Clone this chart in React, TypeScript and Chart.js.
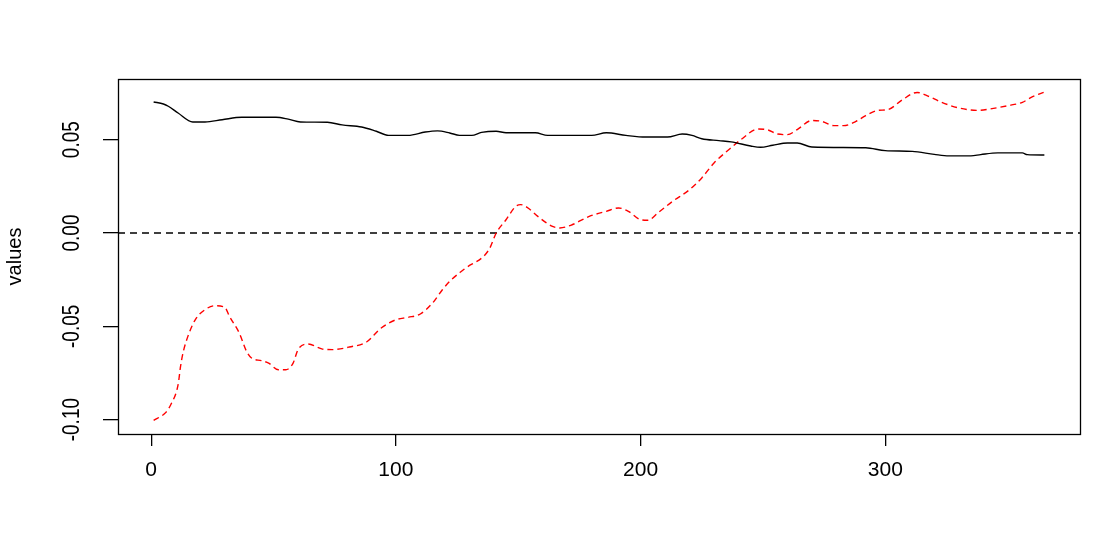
import React, { useEffect, useRef } from "react";
import { Chart, registerables } from "chart.js";

Chart.register(...registerables);

// Axis ticks
const xTicks = [0, 100, 200, 300];
const yTicks = [-0.1, -0.05, 0, 0.05];
const yTickLabels = ["-0.10", "-0.05", "0.00", "0.05"];
const xMin = -13.56;
const xMax = 379.56;
const yMin = -0.1077;
const yMax = 0.0825;

// Black solid series
const blackDays = [1, 5, 7, 11, 17, 22, 29, 37, 51, 56, 61, 72, 78, 86, 92, 97, 105, 112, 117, 122, 126, 131, 135, 141, 145, 157, 162, 180, 186, 194, 202, 211, 217, 221, 225, 232, 237, 245, 249, 254, 260, 264, 270, 292, 300, 311, 320, 326, 335, 339, 346, 356, 358, 365];
const blackValues = [0.0702, 0.0691, 0.0679, 0.0643, 0.0595, 0.0595, 0.0607, 0.062, 0.062, 0.061, 0.0595, 0.0593, 0.0579, 0.0568, 0.0545, 0.0523, 0.0523, 0.0541, 0.0547, 0.0536, 0.0523, 0.0523, 0.0539, 0.0545, 0.0537, 0.0537, 0.0523, 0.0523, 0.0537, 0.0523, 0.0514, 0.0514, 0.053, 0.0523, 0.0505, 0.0495, 0.0488, 0.0466, 0.0459, 0.047, 0.0482, 0.0482, 0.0461, 0.0457, 0.0441, 0.0437, 0.0421, 0.0413, 0.0413, 0.042, 0.0429, 0.0429, 0.042, 0.0418];

// Red dashed series
const redDays = [1, 6, 8, 11, 12, 13, 15, 18, 22, 26, 30, 32, 36, 39, 41, 45, 48, 52, 55, 58, 60, 64, 70, 74, 81, 88, 94, 100, 105, 110, 115, 119, 122, 128, 138, 141, 145, 149, 151, 154, 158, 164, 167, 172, 179, 186, 191, 195, 200, 203, 207, 213, 220, 225, 230, 236, 241, 248, 252, 256, 260, 264, 270, 274, 279, 283, 288, 292, 297, 301, 307, 313, 317, 323, 330, 338, 343, 350, 356, 360, 365];
const redValues = [-0.1004, -0.0961, -0.092, -0.0813, -0.0715, -0.0643, -0.0554, -0.0465, -0.0411, -0.039, -0.0397, -0.0447, -0.0536, -0.0635, -0.067, -0.0684, -0.0697, -0.0733, -0.0733, -0.0697, -0.0625, -0.0595, -0.0622, -0.0625, -0.0611, -0.0584, -0.0509, -0.0465, -0.0452, -0.0434, -0.0375, -0.0304, -0.0259, -0.0193, -0.009, 0.0, 0.0071, 0.0143, 0.0152, 0.0134, 0.0089, 0.0035, 0.0027, 0.0044, 0.0089, 0.0116, 0.0134, 0.0116, 0.0071, 0.0068, 0.0107, 0.0169, 0.0232, 0.0295, 0.0375, 0.0446, 0.05, 0.0557, 0.0552, 0.053, 0.0527, 0.0554, 0.0603, 0.0598, 0.0575, 0.0575, 0.0598, 0.0629, 0.0657, 0.0661, 0.0714, 0.0753, 0.0736, 0.07, 0.067, 0.0657, 0.0665, 0.0682, 0.07, 0.0729, 0.0755];

const FONT = '"Liberation Sans", Arial, sans-serif';

const rStylePlugin = {
  id: "rStyle",
  afterDraw(chart: any) {
    const { ctx, chartArea: a, scales } = chart;
    ctx.save();
    ctx.strokeStyle = "#000";
    ctx.lineWidth = 1.3;
    ctx.strokeRect(Math.round(a.left) + 0.5, Math.round(a.top) + 0.5, Math.round(a.right - a.left), Math.round(a.bottom - a.top));
    const ys = scales.y;
    ctx.fillStyle = "#000";
    ctx.font = `19px ${FONT}`;
    ctx.textAlign = "center";
    ctx.textBaseline = "middle";
    yTicks.forEach((v, i) => {
      const py = ys.getPixelForValue(v);
      ctx.save();
      ctx.translate(a.left - 46, py);
      ctx.rotate(-Math.PI / 2);
      ctx.scale(1, 1.25);
      ctx.fillText(yTickLabels[i], 0, 0);
      ctx.restore();
    });
    ctx.restore();
  },
};

export default function App() {
  const ref = useRef<HTMLCanvasElement | null>(null);

  useEffect(() => {
    if (!ref.current) return;
    const chart = new Chart(ref.current, {
      type: "line",
      data: {
        datasets: [
          {
            label: "black",
            data: blackDays.map((d, i) => ({ x: d, y: blackValues[i] })),
            borderColor: "#000",
            borderWidth: 1.4,
            pointRadius: 0,
            cubicInterpolationMode: "monotone",
            fill: false,
          },
          {
            label: "red",
            data: redDays.map((d, i) => ({ x: d, y: redValues[i] })),
            borderColor: "#ff0000",
            borderWidth: 1.4,
            borderDash: [6, 4],
            pointRadius: 0,
            cubicInterpolationMode: "monotone",
            fill: false,
          },
          {
            label: "zero",
            data: [
              { x: xMin, y: 0 },
              { x: xMax, y: 0 },
            ],
            borderColor: "#000",
            borderWidth: 1.6,
            borderDash: [7, 5],
            pointRadius: 0,
            fill: false,
          },
        ],
      },
      options: {
        animation: false,
        responsive: true,
        maintainAspectRatio: false,
        layout: { padding: { top: 79, right: 30, left: 0, bottom: 0 } },
        plugins: { legend: { display: false }, tooltip: { enabled: false } },
        scales: {
          x: {
            type: "linear",
            min: xMin,
            max: xMax,
            afterBuildTicks: (s: any) => {
              s.ticks = xTicks.map((v) => ({ value: v }));
            },
            afterFit: (s: any) => {
              s.height = 105;
            },
            ticks: {
              autoSkip: false,
              maxRotation: 0,
              minRotation: 0,
              padding: 12,
              color: "#000",
              font: { family: FONT, size: 21 },
              callback: (v: any) => String(v),
            },
            grid: { drawOnChartArea: false, drawTicks: true, tickLength: 12, lineWidth: 1.3, color: "#000", tickColor: "#000" },
            border: { display: false },
          },
          y: {
            type: "linear",
            min: yMin,
            max: yMax,
            afterBuildTicks: (s: any) => {
              s.ticks = yTicks.map((v) => ({ value: v }));
            },
            afterFit: (s: any) => {
              s.width = 118;
            },
            ticks: { display: false },
            grid: { drawOnChartArea: false, drawTicks: true, tickLength: 15, lineWidth: 1.3, color: "#000", tickColor: "#000" },
            border: { display: false },
            title: {
              display: true,
              text: "values",
              color: "#000",
              font: { family: FONT, size: 20 },
              padding: { top: 3, bottom: 0 },
            },
          },
        },
      },
      plugins: [rStylePlugin],
    });
    return () => chart.destroy();
  }, []);

  return (
    <div style={{ position: "fixed", left: 0, top: 0, width: 1110, height: 539, background: "#fff" }}>
      <canvas ref={ref} />
    </div>
  );
}
